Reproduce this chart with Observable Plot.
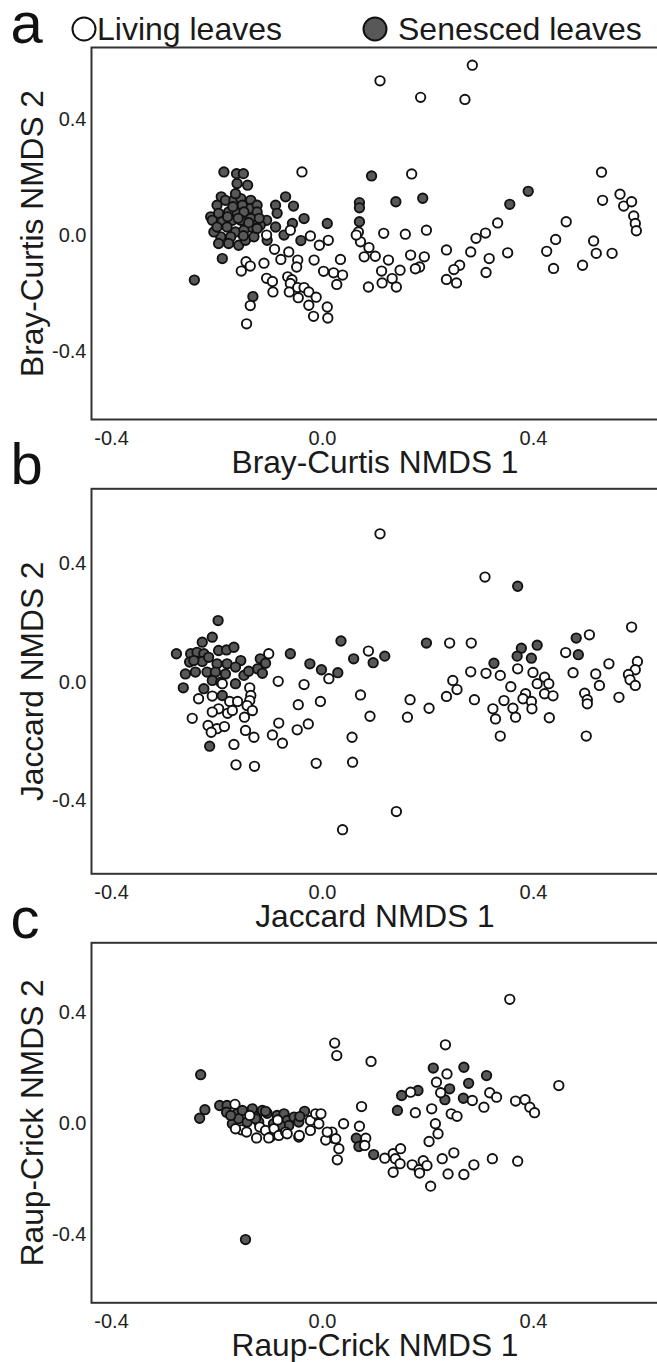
<!DOCTYPE html>
<html><head><meta charset="utf-8">
<script src="https://cdn.jsdelivr.net/npm/d3@7"></script>
<script src="https://cdn.jsdelivr.net/npm/@observablehq/plot@0.6"></script>
<style>
html,body{margin:0;padding:0;background:#fff;overflow:hidden;}
#root{position:relative;width:657px;height:1362px;overflow:hidden;background:#fff;}
</style></head>
<body><div id="root"></div>
<script>
const FONT = '"Liberation Sans", Arial, Helvetica, sans-serif';
const legendLabels = ["Living leaves", "Senesced leaves"];
const panelLetters = ["a", "b", "c"];
const xTitles = ["Bray-Curtis NMDS 1", "Jaccard NMDS 1", "Raup-Crick NMDS 1"];
const yTitles = ["Bray-Curtis NMDS 2", "Jaccard NMDS 2", "Raup-Crick NMDS 2"];
const xTicks = [-0.4, 0.0, 0.4];
const yTicks = [-0.4, 0.0, 0.4];
const xDomain = [-0.438, 0.637];

const brayLiving = [[0.284,0.588],[0.109,0.534],[0.186,0.477],[0.270,0.470],[0.169,0.213],[0.529,0.219],[0.531,0.122],[0.564,0.143],[0.571,0.102],[0.586,0.117],[0.590,0.068],[0.593,0.042],[0.595,0.017],[0.462,0.048],[0.442,-0.013],[0.425,-0.054],[0.438,-0.113],[0.493,-0.102],[0.514,-0.018],[0.519,-0.061],[0.549,-0.061],[0.332,0.044],[0.309,0.009],[0.291,-0.009],[0.281,-0.056],[0.316,-0.079],[0.310,-0.127],[0.351,-0.059],[0.235,-0.049],[0.260,-0.102],[0.249,-0.117],[0.235,-0.151],[0.254,-0.163],[0.197,0.019],[0.157,0.005],[0.116,0.008],[0.167,-0.067],[0.193,-0.073],[0.184,-0.108],[0.176,-0.114],[0.147,-0.119],[0.125,-0.084],[0.112,-0.122],[0.132,-0.148],[0.113,-0.163],[0.140,-0.177],[0.087,-0.177],[0.100,-0.071],[0.079,-0.073],[0.088,-0.041],[0.072,-0.021],[0.068,0.013],[0.064,0.002],[0.034,-0.082],[0.021,-0.128],[0.038,-0.136],[0.027,-0.168],[0.011,-0.016],[0.009,-0.246],[0.010,-0.284],[-0.039,0.220],[-0.023,-0.001],[-0.006,-0.033],[-0.061,0.019],[-0.106,0.002],[-0.091,-0.047],[-0.079,-0.082],[-0.064,-0.056],[-0.047,-0.084],[-0.049,-0.108],[-0.016,-0.084],[0.002,-0.123],[-0.111,-0.095],[-0.145,-0.090],[-0.137,-0.105],[-0.154,-0.122],[-0.106,-0.147],[-0.095,-0.158],[-0.094,-0.194],[-0.066,-0.142],[-0.058,-0.152],[-0.061,-0.165],[-0.063,-0.194],[-0.047,-0.179],[-0.035,-0.179],[-0.046,-0.214],[-0.026,-0.194],[-0.012,-0.212],[-0.026,-0.240],[-0.017,-0.278],[-0.137,-0.241],[-0.144,-0.304]];
const braySenesced = [[0.093,0.206],[0.139,0.117],[0.190,0.129],[0.070,0.114],[0.070,0.096],[0.070,0.048],[0.355,0.108],[0.390,0.153],[0.009,0.042],[-0.187,0.220],[-0.163,0.214],[-0.150,0.214],[-0.162,0.180],[-0.142,0.174],[-0.192,0.134],[-0.184,0.122],[-0.168,0.122],[-0.155,0.128],[-0.136,0.122],[-0.152,0.105],[-0.136,0.094],[-0.124,0.105],[-0.200,0.105],[-0.212,0.065],[-0.209,0.053],[-0.197,0.077],[-0.178,0.082],[-0.162,0.077],[-0.149,0.082],[-0.124,0.082],[-0.171,0.053],[-0.155,0.053],[-0.136,0.059],[-0.190,0.048],[-0.106,0.053],[-0.118,0.036],[-0.136,0.030],[-0.165,0.013],[-0.149,0.019],[-0.174,-0.004],[-0.193,-0.004],[-0.197,-0.027],[-0.178,-0.027],[-0.159,-0.033],[-0.146,-0.016],[-0.130,-0.004],[-0.105,-0.016],[-0.089,0.030],[-0.089,0.105],[-0.086,0.077],[-0.070,0.134],[-0.055,0.102],[-0.035,0.059],[-0.073,0.002],[-0.057,0.042],[-0.041,-0.017],[-0.190,-0.079],[-0.243,-0.153],[-0.132,-0.210],[-0.124,0.025],[-0.181,0.030],[-0.206,0.013],[-0.160,0.060],[-0.140,0.045],[-0.170,0.100],[-0.180,0.065],[-0.150,0.000],[-0.120,0.060],[-0.200,0.030],[-0.165,0.145]];

const jaccardLiving = [[0.109,0.502],[0.308,0.356],[0.586,0.187],[0.506,0.161],[0.461,0.101],[0.475,0.033],[0.543,0.063],[0.518,0.029],[0.525,-0.010],[0.497,-0.036],[0.502,-0.058],[0.502,-0.072],[0.500,-0.181],[0.562,-0.050],[0.597,0.071],[0.593,0.043],[0.580,0.027],[0.583,0.009],[0.593,-0.010],[0.241,0.133],[0.282,0.133],[0.087,0.106],[0.281,0.036],[0.310,0.031],[0.337,0.024],[0.370,0.046],[0.399,0.034],[0.421,0.018],[0.429,-0.004],[0.407,-0.004],[0.421,-0.038],[0.437,-0.045],[0.385,-0.038],[0.380,-0.055],[0.396,-0.064],[0.397,-0.089],[0.357,-0.014],[0.344,-0.061],[0.361,-0.087],[0.366,-0.117],[0.323,-0.089],[0.328,-0.123],[0.337,-0.181],[0.430,-0.119],[0.288,-0.058],[0.247,0.007],[0.255,-0.024],[0.235,-0.047],[0.202,-0.087],[0.166,-0.058],[0.161,-0.117],[0.072,-0.042],[0.090,-0.114],[0.056,-0.185],[0.057,-0.269],[0.140,-0.436],[0.038,-0.497],[0.012,0.013],[-0.102,0.097],[-0.084,0.004],[-0.035,-0.007],[-0.004,-0.064],[-0.046,-0.075],[-0.083,-0.137],[-0.048,-0.160],[-0.027,-0.140],[-0.095,-0.177],[-0.076,-0.205],[-0.012,-0.273],[-0.247,-0.121],[-0.235,-0.055],[-0.168,-0.209],[-0.164,-0.278],[-0.129,-0.283],[-0.130,-0.185],[-0.190,-0.004],[-0.138,-0.018],[-0.136,-0.044],[-0.138,-0.061],[-0.143,-0.078],[-0.133,-0.095],[-0.209,-0.046],[-0.176,-0.064],[-0.161,-0.064],[-0.197,-0.089],[-0.209,-0.100],[-0.180,-0.104],[-0.171,-0.095],[-0.148,-0.117],[-0.217,-0.145],[-0.200,-0.156],[-0.186,-0.149],[-0.211,-0.168],[-0.146,-0.162]];
const jaccardSenesced = [[0.370,0.325],[0.481,0.150],[0.485,0.094],[0.407,0.126],[0.377,0.116],[0.369,0.089],[0.396,0.082],[0.325,0.065],[0.197,0.133],[0.035,0.140],[0.059,0.080],[0.096,0.067],[0.118,0.089],[0.029,0.033],[-0.198,0.209],[-0.209,0.153],[-0.277,0.097],[-0.264,-0.018],[-0.214,-0.215],[-0.061,0.097],[-0.024,0.063],[-0.002,0.043],[-0.250,0.097],[-0.238,0.102],[-0.225,0.097],[-0.197,0.108],[-0.182,0.110],[-0.252,0.069],[-0.228,0.071],[-0.216,0.085],[-0.200,0.063],[-0.181,0.063],[-0.155,0.074],[-0.165,0.052],[-0.260,0.029],[-0.241,0.035],[-0.219,0.035],[-0.203,0.035],[-0.184,0.029],[-0.149,0.024],[-0.140,0.038],[-0.118,0.080],[-0.108,0.065],[-0.123,0.046],[-0.114,0.031],[-0.225,-0.021],[-0.209,0.007],[-0.193,0.001],[-0.165,-0.004],[-0.190,-0.044],[-0.228,0.136],[-0.244,0.074],[-0.168,0.119]];

const raupLiving = [[0.355,0.448],[0.233,0.284],[0.023,0.290],[0.027,0.245],[0.092,0.224],[0.448,0.137],[0.236,0.179],[0.216,0.149],[0.224,0.111],[0.167,0.113],[0.317,0.111],[0.330,0.095],[0.284,0.083],[0.306,0.059],[0.366,0.081],[0.384,0.086],[0.393,0.059],[0.402,0.039],[0.244,0.035],[0.255,0.026],[0.207,0.053],[0.176,0.039],[0.074,0.061],[0.040,-0.001],[0.070,-0.010],[0.214,-0.001],[0.219,-0.037],[0.202,-0.065],[0.082,-0.053],[0.080,-0.079],[0.021,-0.053],[0.031,-0.091],[0.028,-0.131],[0.118,-0.125],[0.134,-0.109],[0.148,-0.091],[0.138,-0.127],[0.147,-0.145],[0.134,-0.176],[0.170,-0.149],[0.183,-0.167],[0.184,-0.179],[0.191,-0.134],[0.198,-0.152],[0.205,-0.226],[0.227,-0.127],[0.249,-0.106],[0.238,-0.182],[0.268,-0.184],[0.287,-0.149],[0.322,-0.127],[0.370,-0.136],[0.018,-0.031],[0.006,-0.060],[-0.166,0.069],[-0.138,0.029],[-0.154,-0.023],[-0.144,-0.031],[-0.125,-0.052],[-0.119,-0.013],[-0.108,-0.025],[-0.099,-0.049],[-0.092,-0.019],[-0.083,-0.043],[-0.070,-0.031],[-0.085,0.013],[-0.045,-0.049],[-0.023,-0.025],[-0.023,0.011],[-0.013,0.035],[-0.003,0.035],[-0.007,-0.001],[0.009,-0.031],[0.025,-0.055],[-0.165,-0.019],[-0.102,-0.052],[-0.067,-0.037],[-0.044,-0.043]];
const raupSenesced = [[0.210,0.200],[0.268,0.203],[0.311,0.173],[0.277,0.145],[0.241,0.125],[0.232,0.086],[0.267,0.091],[0.181,0.119],[0.150,0.101],[0.142,0.047],[0.064,-0.053],[0.069,-0.083],[0.097,-0.112],[-0.231,0.176],[-0.223,0.050],[-0.233,0.019],[-0.146,-0.419],[-0.195,0.065],[-0.181,0.065],[-0.182,0.041],[-0.171,-0.001],[-0.162,0.035],[-0.152,0.047],[-0.133,0.053],[-0.125,0.023],[-0.114,0.047],[-0.105,0.037],[-0.121,0.005],[-0.086,0.029],[-0.073,0.035],[-0.067,0.011],[-0.064,-0.007],[-0.054,0.023],[-0.045,0.005],[-0.034,0.044],[-0.043,0.025],[-0.159,0.017],[-0.143,0.005],[-0.093,-0.001],[-0.080,-0.007],[-0.174,0.029],[-0.127,0.017],[-0.108,0.044]];

const panels = [
  {top: 0,   height: 480, mt: 47, mb: 61,   ydom: [-0.634, 0.649], living: brayLiving, senesced: braySenesced},
  {top: 480, height: 420, mt: 8.3, mb: 26.7, ydom: [-0.646, 0.654], living: jaccardLiving, senesced: jaccardSenesced},
  {top: 900, height: 462, mt: 42.3, mb: 59.7, ydom: [-0.647, 0.652], living: raupLiving, senesced: raupSenesced}
];

const fmt = d => d.toFixed(1);
const root = document.getElementById("root");

panels.forEach((p, i) => {
  const chart = Plot.plot({
    width: 658, height: p.height,
    marginLeft: 91, marginRight: 0, marginTop: p.mt, marginBottom: p.mb,
    style: {background: "transparent", overflow: "visible", fontFamily: FONT, fontSize: "20px", color: "#222"},
    x: {domain: xDomain, ticks: xTicks, tickFormat: fmt, tickSize: 0, tickPadding: 11, label: null},
    y: {domain: p.ydom, ticks: yTicks, tickFormat: fmt, tickSize: 0, tickPadding: 5, label: null},
    marks: [
      Plot.frame({stroke: "#333", strokeWidth: 2}),
      Plot.dot(p.senesced, {x: d => d[0], y: d => d[1], r: 4.7, fill: "#585858", stroke: "#111", strokeWidth: 1.9}),
      Plot.dot(p.living, {x: d => d[0], y: d => d[1], r: 4.7, fill: "#fff", stroke: "#111", strokeWidth: 1.9}),
      Plot.text([xTitles[i]], {text: d => d, frameAnchor: "bottom", dy: 53, textAnchor: "middle", lineAnchor: "bottom", fontSize: 31.7, fill: "#1a1a1a"}),
      Plot.text([yTitles[i]], {text: d => d, frameAnchor: "left", dx: -49, rotate: -90, textAnchor: "middle", lineAnchor: "bottom", fontSize: 31.7, fill: "#1a1a1a"}),
      Plot.text([panelLetters[i]], {text: d => d, frameAnchor: "top-left", dx: -81, dy: -5, lineAnchor: "bottom", textAnchor: "start", fontSize: 58, fill: "#111"})
    ]
  });
  chart.style.position = "absolute";
  chart.style.top = p.top + "px";
  chart.style.left = "0px";
  chart.style.maxWidth = "none";
  root.appendChild(chart);
});

// legend above panel a
const leg = d3.select(root).append("svg")
  .attr("width", 657).attr("height", 60)
  .style("position", "absolute").style("top", "0px").style("left", "0px")
  .style("overflow", "visible");
const legendItems = [
  {label: legendLabels[0], cx: 84, tx: 97, fill: "#fff"},
  {label: legendLabels[1], cx: 375, tx: 398, fill: "#585858"}
];
legendItems.forEach(it => {
  leg.append("circle").attr("cx", it.cx).attr("cy", 29).attr("r", 11.5)
    .attr("fill", it.fill).attr("stroke", "#111").attr("stroke-width", 2);
  leg.append("text").attr("x", it.tx).attr("y", 40).text(it.label)
    .attr("font-family", FONT).attr("font-size", 32).attr("fill", "#1a1a1a");
});
</script>
</body></html>
